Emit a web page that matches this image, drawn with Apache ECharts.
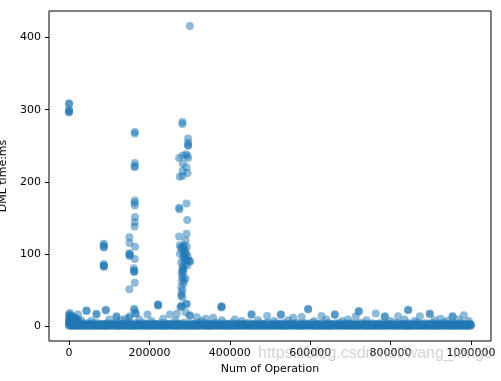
<!DOCTYPE html>
<html><head><meta charset="utf-8">
<script src="https://cdn.jsdelivr.net/npm/echarts@6/dist/echarts.min.js"></script>
<style>html,body{margin:0;padding:0;background:#fff}#c{width:501px;height:381px}</style>
</head><body><div id="c"></div>
<script>
// Tick labels
const xTicks = [0, 200000, 400000, 600000, 800000, 1000000];
const yTicks = [0, 100, 200, 300, 400];

// Dense band of small DML times (estimated rows of the solid band)
const bandX = [0,10000,20000,30000,40000,50000,60000,70000,80000,90000,
 100000,110000,120000,130000,140000,150000,160000,170000,180000,190000,
 200000,210000,220000,230000,240000,250000,260000,270000,280000,290000,
 300000,310000,320000,330000,340000,350000,360000,370000,380000,390000,
 400000,410000,420000,430000,440000,450000,460000,470000,480000,490000,
 500000,510000,520000,530000,540000,550000,560000,570000,580000,590000,
 600000,610000,620000,630000,640000,650000,660000,670000,680000,690000,
 700000,710000,720000,730000,740000,750000,760000,770000,780000,790000,
 800000,810000,820000,830000,840000,850000,860000,870000,880000,890000,
 900000,910000,920000,930000,940000,950000,960000,970000,980000,990000,1000000];
const bandXOff = [5000,15000,25000,35000,45000,55000,65000,75000,85000,95000,
 105000,115000,125000,135000,145000,155000,165000,175000,185000,195000,
 205000,215000,225000,235000,245000,255000,265000,275000,285000,295000,
 305000,315000,325000,335000,345000,355000,365000,375000,385000,395000,
 405000,415000,425000,435000,445000,455000,465000,475000,485000,495000,
 505000,515000,525000,535000,545000,555000,565000,575000,585000,595000,
 605000,615000,625000,635000,645000,655000,665000,675000,685000,695000,
 705000,715000,725000,735000,745000,755000,765000,775000,785000,795000,
 805000,815000,825000,835000,845000,855000,865000,875000,885000,895000,
 905000,915000,925000,935000,945000,955000,965000,975000,985000,995000];
const bandY0 = [0.3,0.1,0.4,0.2,0.5,0.1,0.3,0.2,0.4,0.0, 0.2,0.5,0.1,0.3,0.4,0.2,0.0,0.3,0.5,0.1,
 0.4,0.2,0.3,0.1,0.5,0.2,0.4,0.0,0.3,0.2, 0.1,0.4,0.3,0.5,0.2,0.1,0.3,0.4,0.2,0.0,
 0.3,0.2,0.5,0.1,0.4,0.3,0.2,0.1,0.4,0.3, 0.0,0.2,0.5,0.3,0.1,0.4,0.2,0.3,0.1,0.5,
 0.2,0.4,0.0,0.3,0.2,0.1,0.5,0.3,0.4,0.2, 0.1,0.3,0.2,0.4,0.0,0.5,0.2,0.1,0.3,0.4,
 0.2,0.0,0.3,0.5,0.1,0.2,0.4,0.3,0.1,0.2, 0.4,0.3,0.0,0.2,0.5,0.1,0.3,0.2,0.4,0.1, 0.3];
const bandY0b = [0.2,0.4,0.1,0.3,0.0,0.5,0.2,0.4,0.1,0.3, 0.5,0.2,0.0,0.4,0.3,0.1,0.5,0.2,0.3,0.4,
 0.1,0.3,0.5,0.0,0.2,0.4,0.1,0.3,0.5,0.2, 0.4,0.0,0.2,0.3,0.1,0.5,0.4,0.2,0.0,0.3,
 0.1,0.5,0.3,0.2,0.4,0.0,0.3,0.5,0.1,0.2, 0.4,0.3,0.1,0.0,0.5,0.2,0.4,0.1,0.3,0.2,
 0.5,0.0,0.4,0.2,0.1,0.3,0.5,0.2,0.0,0.4, 0.3,0.1,0.2,0.5,0.4,0.0,0.3,0.2,0.1,0.5,
 0.2,0.4,0.3,0.0,0.1,0.5,0.2,0.4,0.3,0.1, 0.0,0.2,0.5,0.3,0.4,0.1,0.2,0.0,0.3,0.4];
const bandY1 = [1.2,1.0,1.4,1.1,1.3,1.5,1.0,1.2,1.4,1.1, 1.3,1.0,1.5,1.2,1.1,1.4,1.3,1.0,1.2,1.5,
 1.1,1.3,1.0,1.4,1.2,1.5,1.1,1.3,1.0,1.2, 1.4,1.1,1.3,1.5,1.0,1.2,1.4,1.1,1.3,1.0,
 1.5,1.2,1.1,1.4,1.3,1.0,1.2,1.5,1.1,1.3, 1.0,1.4,1.2,1.1,1.5,1.3,1.0,1.2,1.4,1.1,
 1.3,1.5,1.0,1.2,1.1,1.4,1.3,1.0,1.5,1.2, 1.1,1.3,1.4,1.0,1.2,1.5,1.1,1.3,1.0,1.4,
 1.2,1.1,1.5,1.3,1.0,1.2,1.4,1.1,1.3,1.5, 1.0,1.2,1.4,1.1,1.3,1.0,1.5,1.2,1.1,1.3];
const bandY1b = [1.6,1.8,1.5,1.9,1.7,1.6,2.0,1.5,1.8,1.7, 1.9,1.6,1.5,1.8,2.0,1.7,1.6,1.9,1.5,1.8,
 1.7,2.0,1.6,1.5,1.9,1.8,1.7,1.6,2.0,1.5, 1.8,1.9,1.7,1.6,1.5,2.0,1.8,1.7,1.9,1.6,
 1.5,1.7,2.0,1.8,1.6,1.9,1.5,1.7,1.8,2.0, 1.6,1.5,1.9,1.7,1.8,1.6,2.0,1.5,1.7,1.9,
 1.8,1.6,1.5,2.0,1.7,1.9,1.6,1.8,1.5,1.7, 2.0,1.8,1.6,1.9,1.5,1.7,1.8,1.6,2.0,1.9,
 1.5,1.7,1.8,1.6,1.9,2.0,1.5,1.7,1.6,1.8, 1.9,1.5,1.7,2.0,1.6,1.8,1.7,1.5,1.9,1.6, 1.8];
const bandY2 = [2.3,2.1,2.5,2.2,2.0,2.4,2.6,2.1,2.3,2.5, 2.2,2.0,2.4,2.1,2.6,2.3,2.2,2.5,2.0,2.4,
 2.1,2.3,2.6,2.2,2.0,2.5,2.1,2.4,2.3,2.2, 2.0,2.6,2.1,2.3,2.5,2.2,2.4,2.0,2.1,2.3,
 2.5,2.2,2.6,2.0,2.4,2.1,2.3,2.2,2.5,2.0, 2.4,2.1,2.3,2.6,2.2,2.0,2.5,2.1,2.4,2.3,
 2.2,2.0,2.6,2.1,2.3,2.5,2.2,2.4,2.0,2.1, 2.3,2.5,2.2,2.6,2.0,2.4,2.1,2.3,2.2,2.5,
 2.0,2.4,2.1,2.3,2.6,2.2,2.0,2.5,2.1,2.4, 2.3,2.2,2.0,2.6,2.1,2.3,2.5,2.2,2.4,2.0, 2.2];
const bandY3 = [3.6,3.1,4.2,3.3,3.8,3.0,4.5,3.4,3.2,3.9, 3.1,4.0,3.5,3.2,4.4,3.0,3.7,3.3,4.1,3.2,
 3.8,3.0,3.4,4.3,3.1,3.6,3.9,3.2,4.6,3.3, 3.0,3.7,4.1,3.2,3.5,3.0,4.4,3.3,3.8,3.1,
 4.0,3.2,3.6,3.0,4.3,3.4,3.1,3.9,3.2,4.5, 3.0,3.7,3.3,4.1,3.1,3.5,4.2,3.0,3.8,3.3,
 4.4,3.1,3.6,3.2,4.0,3.0,3.7,4.3,3.2,3.4, 3.9,3.1,4.5,3.3,3.0,3.8,3.2,4.1,3.5,3.0,
 3.6,4.2,3.1,3.4,3.9,3.2,4.4,3.0,3.7,3.3, 4.0,3.1,3.5,4.3,3.2,3.8,3.0,4.1,3.4,3.6];

// Taller cluster at the very start
const startCluster = [[0,16],[0,13],[0,10],[0,7],[0,5],[3000,15],[3000,11],[3000,8],[3000,6],
 [6000,14],[6000,10],[6000,7],[9000,12],[9000,9],[9000,6],[12000,13],[12000,8],[12000,5],
 [15000,11],[15000,7],[18000,10],[18000,6],[21000,9],[21000,5],[24000,7],[1700,18],[22400,16]];

// Spikes
const spikeAt0 = [[0,309],[0,308],[0,300],[0,298],[0,297],[0,296]];
const spikeAt86k = [[86400,114],[86000,112],[86800,110],[86400,109],[86400,86],[86000,84],[86800,83],[86400,82]];
const spikeAt160k = [[163500,269],[163500,267],[163500,226],[163500,222],[163000,220],
 [163500,174],[163000,171],[163500,167],[164000,151],[163500,144],[163000,138],
 [150000,123],[150500,115],[164000,110],[150000,101],[151000,100],[150500,98],[151000,97],
 [163500,93],[161000,80],[162000,77],[162500,75],[161500,76],[163500,60],[150000,51],
 [161800,24],[162500,22],[165300,18],[166000,17],[151100,13.5],[149000,11]];
const spikeAt285k = [[300400,416],[282200,283],[282200,280],
 [296000,260],[296500,254],[296000,251],[296500,250],
 [273800,233],[282200,236],[290500,238],[294000,236],[296200,233],[283000,225],[292200,220],
 [282200,215],[294700,212],[275500,207],[282200,208],
 [292200,170],[273800,164],[274500,162],[294000,147],
 [292200,128],[273800,124],[290000,119],[275500,112],[281000,110],[285000,108],[288000,105],
 [283000,103],[289000,101],[285500,98],[292000,100],[287000,95],[284000,93],[290500,92],
 [300400,90],[301000,89],[296000,91],[288000,86],[283000,83],[285000,80],[281500,78],
 [282500,76],[284000,75],[280000,72],[283000,68],[290000,66],[280000,63],[286000,63],
 [285000,59],[279000,54],[282000,50],[280000,45],[279000,42],[282000,40],[292000,31],
 [279000,28],[280500,27],[277000,26],[290000,19],[292200,30],[268000,17],
 [278000,108],[293000,110],[276000,100],[295000,96],[279000,88],[294000,84],[286000,112]];

// Small outliers above the band
const lowOutliers = [[43300,21.8],[43300,20.5],[68200,17],[68200,16],[91300,22.7],[91300,21.5],
 [118000,13.5],[118000,12.5],[195100,16],[221500,30],[221500,29],[221500,28],[234000,10],
 [250600,16],[300400,14.8],[300400,14],[318000,12],[340000,10],[358400,11.6],
 [379300,27.7],[379300,26.5],[379300,25.5],[412400,8.9],[454000,16.2],[454000,15.5],
 [492900,13.9],[527000,16.2],[527000,15.4],[557600,11.6],[578500,12.5],[594900,24],[594900,23],
 [628200,13.9],[661300,16.2],[661300,15.4],[694400,8.9],[721000,20.8],[721000,20],[713600,13.5],
 [763400,17.2],[785800,13.5],[785800,12.8],[818900,13.5],[843800,22.7],[843800,21.8],
 [873000,13.5],[897800,17.2],[897800,16.4],[924400,10],[954300,13.5],[954300,12.7],[982500,14.8]];
const bumps = [[30000,8],[55000,7],[100000,9],[130000,8],[140000,10],[175000,9],[205000,7],
 [265000,8],[330000,7],[380000,8],[430000,7],[470000,8],[510000,7],[545000,8],[610000,7],
 [640000,9],[680000,7],[740000,8],[800000,7],[835000,9],[860000,7],[910000,8],[940000,7],
 [970000,9],[995000,7]];

const band = [].concat(
  bandX.map((x, i) => [x, bandY0[i]]),
  bandXOff.map((x, i) => [x, bandY0b[i]]),
  bandXOff.map((x, i) => [x, bandY1[i]]),
  bandX.map((x, i) => [x, bandY1b[i]]),
  bandX.map((x, i) => [x, bandY2[i]]),
  bandXOff.map((x, i) => [x, bandY3[i]])
);
const allPoints = [].concat(band, startCluster, bumps, lowOutliers, spikeAt0, spikeAt86k, spikeAt160k, spikeAt285k);

const font = 'DejaVu Sans';
const chart = echarts.init(document.getElementById('c'), null, {renderer: 'canvas'});
chart.setOption({
  animation: false,
  backgroundColor: '#fff',
  grid: {left: 49, right: 10, top: 11, bottom: 40, show: true, borderColor: '#000', borderWidth: 1,
         containLabel: false, outerBoundsMode: 'none'},
  xAxis: {
    type: 'value', min: -50000, max: 1050000,
    name: 'Num of Operation', nameLocation: 'middle', nameGap: 12,
    nameTextStyle: {fontFamily: font, fontSize: 11, color: '#000'},
    axisLine: {show: false, onZero: false},
    axisTick: {show: true, customValues: xTicks, length: 4, lineStyle: {color: '#000', width: 1}},
    axisLabel: {customValues: xTicks, color: '#000', fontFamily: font, fontSize: 11, margin: 7,
                formatter: v => String(v)},
    splitLine: {show: false}
  },
  yAxis: {
    type: 'value', min: -20.8, max: 436.8,
    name: 'DML time:ms', nameLocation: 'middle', nameGap: 29,
    nameTextStyle: {fontFamily: font, fontSize: 11, color: '#000'},
    axisLine: {show: false, onZero: false},
    axisTick: {show: true, customValues: yTicks, length: 4, lineStyle: {color: '#000', width: 1}},
    axisLabel: {customValues: yTicks, color: '#000', fontFamily: font, fontSize: 11, margin: 8,
                formatter: v => String(v)},
    splitLine: {show: false}
  },
  series: [{
    type: 'scatter', data: allPoints, symbol: 'circle', symbolSize: 8, silent: true,
    itemStyle: {color: '#1f77b4', opacity: 0.5},
    emphasis: {disabled: true}
  }],
  graphic: [{
    type: 'text', left: 258, top: 346, z: 100, silent: true,
    style: {text: 'https://blog.csdn.net/wang_feng0', fontSize: 16, fontFamily: 'Liberation Sans',
            fill: 'rgba(175,175,175,0.55)'}
  }]
});
</script>
</body></html>
